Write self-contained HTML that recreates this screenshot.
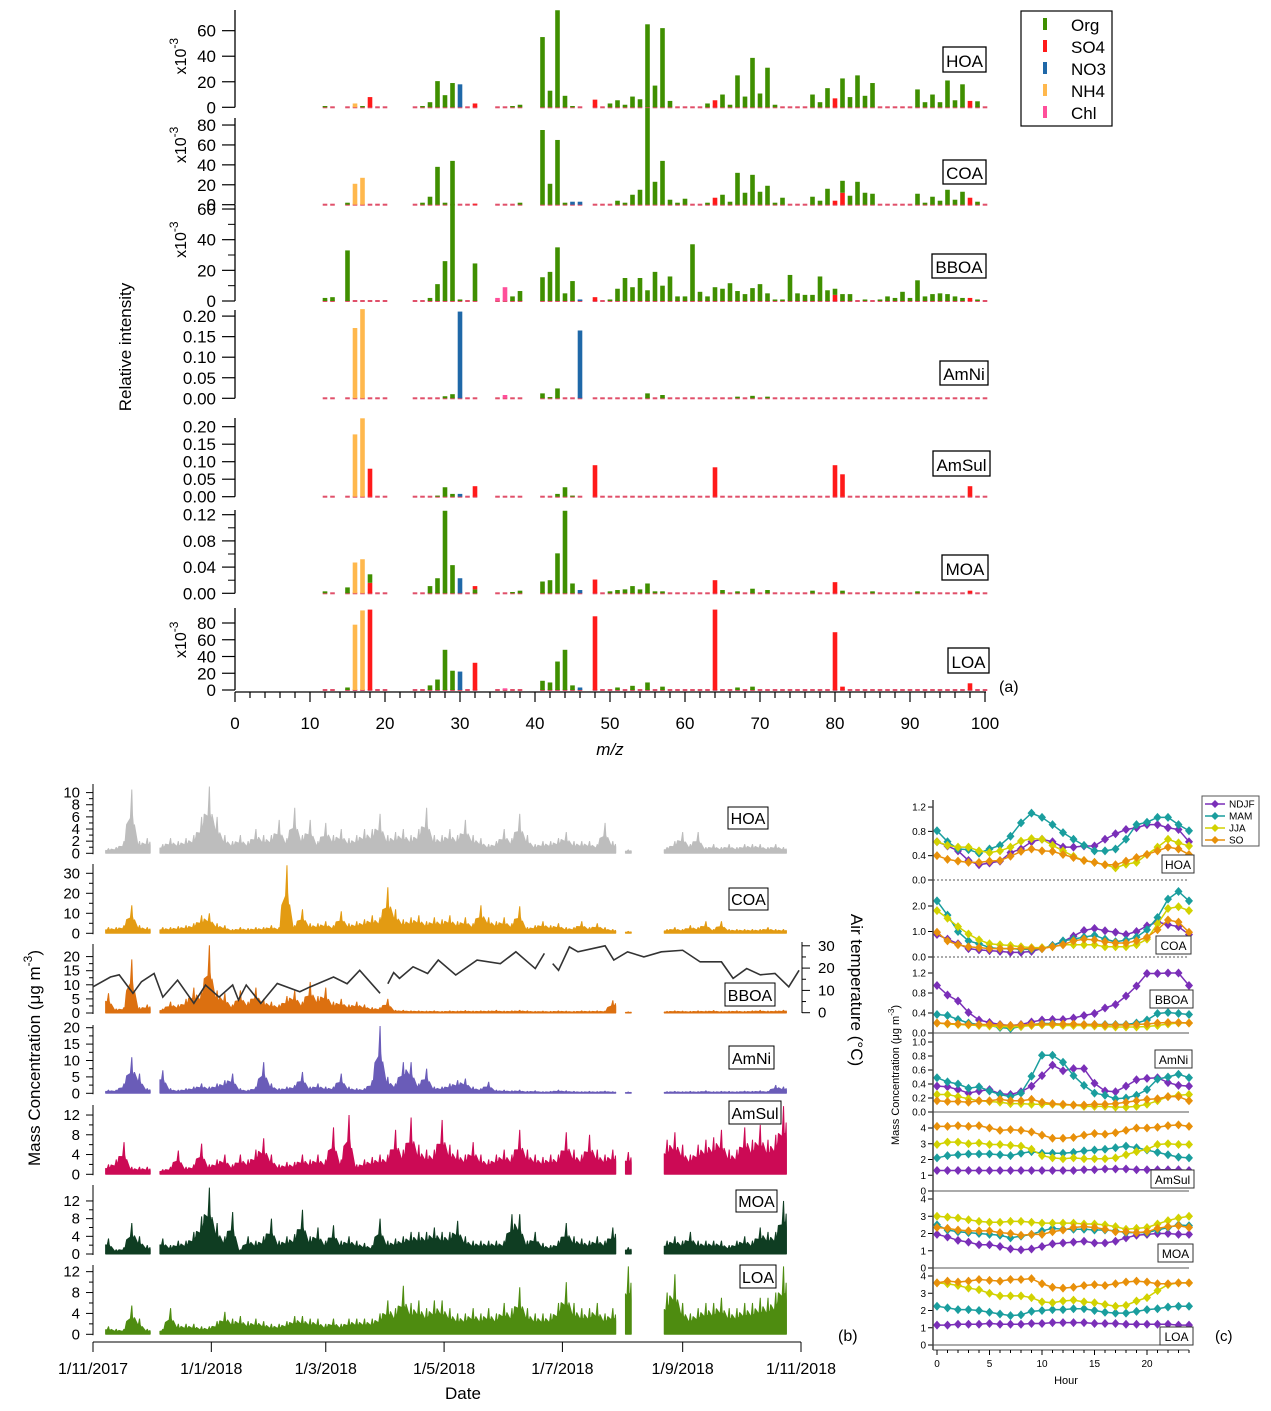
<!DOCTYPE html>
<html><head><meta charset="utf-8"><style>
html,body{margin:0;padding:0;background:#fff}
svg{display:block;font-family:"Liberation Sans",sans-serif}
</style></head><body>
<svg id="fig" width="1271" height="1411" viewBox="0 0 1271 1411" xmlns="http://www.w3.org/2000/svg"></svg>
<script>
// ---------- Panel (a) data: [m/z, value, species] ----------
const mzRanges=[[12,13],[15,20],[24,32],[35,38],[41,46],[48,100]];
const speciesNames=['Org','SO4','NO3','NH4','Chl'];
const speciesCodes='osnhc';
const hoaBars=[[12,1],[16,3,'h'],[17,1],[18,8,'s'],[25,1],[26,4],[27,20.5],[28,9.5],[29,19],[30,18,'n'],[32,3,'s'],[37,1],[38,2],[41,55],[42,13],[43,76],[44,9],[45,1],[48,6,'s'],[50,3],[51,5.5],[52,2],[53,8.4],[54,6.3],[55,65],[56,17],[57,62],[58,5],[63,3],[64,5.5,'s'],[65,10],[66,2],[67,25],[68,8.4],[69,38.7],[70,10.8],[71,31],[72,2],[77,10],[78,4],[79,15],[80,7,'s'],[81,22.6],[82,8],[83,25],[84,9],[85,19],[91,14],[92,4],[93,10],[94,4],[95,21],[96,5.5],[97,18],[98,5,'s'],[99,4.7]];
const coaBars=[[15,2],[16,21,'h'],[17,27,'h'],[25,2],[26,8],[27,38],[28,2],[29,44],[32,1,'s'],[38,2],[41,75],[42,21],[43,65],[44,2],[45,3,'n'],[46,3,'n'],[51,4],[52,2],[53,10],[54,15],[55,97],[56,23],[57,44],[58,5],[59,2],[60,6],[63,2],[64,7,'s'],[65,10],[66,3],[67,32],[68,12],[69,30],[70,13],[71,19],[72,2],[73,7],[77,8],[78,4],[79,16],[80,4,'s'],[81,12,'s'],[81,12],[82,9],[83,23],[84,12],[85,11],[91,11],[92,2],[93,8],[94,4],[95,15],[96,5],[97,13],[98,7,'s'],[99,3]];
const bboaBars=[[12,2],[13,2.5],[15,33],[26,2],[27,11],[28,26],[29,63],[30,1],[32,24.5],[35,2,'c'],[36,9,'c'],[37,3],[38,6.5],[41,15.5],[42,19],[43,35],[44,5],[45,13],[46,1,'n'],[48,2.5,'s'],[50,1],[51,8],[52,15],[53,9],[54,15],[55,7],[56,19],[57,10],[58,16],[59,3],[60,3],[61,37],[62,6],[63,3],[64,9],[65,8],[66,11.6],[67,6.5],[68,4.5],[69,8.4],[70,11],[71,5],[72,1],[73,1],[74,17],[75,5],[76,4],[77,4],[78,16],[79,7],[80,4,'s'],[80,4],[81,4.5],[82,4.5],[84,1],[86,1],[87,3],[88,2],[89,6],[90,2],[91,13.5],[92,3],[93,4.5],[94,5],[95,4.5],[96,3],[97,2],[98,2,'s'],[99,1]];
const amniBars=[[16,0.171,'h'],[17,0.217,'h'],[28,0.005],[29,0.01],[30,0.211,'n'],[36,0.008,'c'],[41,0.012],[42,0.003],[43,0.024],[46,0.165,'n'],[55,0.012],[57,0.008],[67,0.004],[69,0.006],[71,0.004]];
const amsulBars=[[16,0.178,'h'],[17,0.224,'h'],[18,0.08,'s'],[27,0.003],[28,0.027],[29,0.008],[30,0.008,'n'],[32,0.03,'s'],[43,0.008],[44,0.027],[45,0.003],[48,0.09,'s'],[64,0.084,'s'],[80,0.09,'s'],[81,0.064,'s'],[98,0.03,'s']];
const moaBars=[[12,0.003],[15,0.009],[16,0.047,'h'],[17,0.052,'h'],[18,0.016,'s'],[18,0.013],[26,0.011],[27,0.023],[28,0.126],[29,0.043],[30,0.023,'n'],[32,0.006],[32,0.005,'s'],[37,0.002],[38,0.004],[41,0.018],[42,0.02],[43,0.061],[44,0.126],[45,0.015],[46,0.005,'n'],[48,0.021,'s'],[50,0.003],[51,0.005],[52,0.006],[53,0.011],[54,0.006],[55,0.015],[56,0.003],[57,0.003],[64,0.02,'s'],[65,0.005],[67,0.003],[69,0.007],[71,0.005],[77,0.004],[80,0.017,'s'],[81,0.004],[85,0.003],[91,0.003],[98,0.004,'s']];
const loaBars=[[15,3],[16,78,'h'],[17,95,'h'],[18,96,'s'],[26,5.5],[27,12.5],[28,48],[29,23],[30,22,'n'],[32,32.5,'s'],[36,2,'c'],[41,11],[42,9],[43,34],[44,48],[45,5.5],[46,3,'n'],[48,88,'s'],[51,3],[53,5],[55,9],[57,4],[64,96,'s'],[67,3],[69,4],[80,69,'s'],[81,4,'s'],[98,8,'s']];
const mzTicks=[0,10,20,30,40,50,60,70,80,90,100];

// ---------- Panel (b) data: values every 4 days starting day 8 (days since 1/11/2017) ----------
const tsStartDay=8, tsStep=4;
const hoaTS=[0.8,1,2,10.5,2,2.5,null,1.5,2.5,2, 2.5,3,6,11,6,3,2,3,2,4, 3,3,5.5,2.5,7.5,3,5.5,2,5,3, 4,2.5,3,4,4,6.5,3,3.5,4,3, 4,7.5,3,3,4,3,5.5,3,2.5,1.5, 2,4,2.5,6.5,3,1.5,2,2,2.5,3.5, 2,2,2,1.5,5,2,null,0.6,null,null, null,null,1,2,3.5,1.5,3.5,1,1.5,1, 1.5,1,1.5,1.5,1.5,1,1.5,1];
const coaTS=[3,3,4,14,4,3,null,3,3,3.5, 4,5,9,10,5,4,2,3,2.5,3, 3,4,3,34,4,12,5,5,6,4, 11,5,6,7,9,8,23,12,7,8, 9,6,8,7,9,6,8,5,14,8, 6,8,5,13.5,3,4,6,4,5,3, 3,6,3,5,3,2,null,1,null,null, null,null,2,3,2,4,3,6,2,6, 2,2,2,2,2,3,2,2];
const bboaTS=[7,1.5,2,19,2,3,null,1.5,4,3, 5,9,8,24,8,7,3,8,4,9, 5,4,3,6,8,4,11,6,9,4, 5,3,4,3,2,2,5,1,1,0.8, 0.8,0.7,0.8,0.6,0.8,0.7,0.9,0.7,0.8,0.8, 1,0.7,0.8,1,0.8,0.6,0.7,0.6,0.8,0.7, 0.6,0.8,0.7,0.8,0.7,4.5,null,0.4,null,null, null,null,0.6,0.8,0.7,0.6,0.8,0.7,0.9,0.6, 0.7,0.8,0.6,0.8,1,0.7,0.8,1];
const amniTS=[1,1,3,11,6,1.5,null,7,1.5,1, 1.5,2,3,2,3,4,6,1.5,1,2, 9.5,3,1.5,2,2.5,6.5,2,3,2,2, 6,2,1.5,1.5,4,20.5,5,3,9.5,9.5, 3,7.5,2,2,3,4,4.5,2,1.5,3.5, 1,1,0.8,1,0.6,0.8,0.5,0.6,1,0.8, 0.6,0.5,0.6,0.5,0.7,0.5,null,0.4,null,null, null,null,0.5,0.6,0.5,0.6,0.5,0.8,0.5,0.6, 0.6,0.5,0.7,0.6,0.8,0.6,2.5,2];
const amsulTS=[2,3,6.5,1.5,1.5,1.5,null,1,1.5,4.8, 1.5,2,6.2,2,3,4,2,4,3,5, 7.3,4,2,2.5,2.5,4,3,4,3,9.5, 3,12,2,3,3.5,4,4,9,5,11.5, 6,5,5,11,6,5,4,6.5,4,3, 4,5,4,9,5,4,3.5,4,4,8.5, 5,4,8,5,4,5,null,4.5,null,null, null,null,7,8.5,6,4,6,7,7.5,9, 5,5,9.5,7,10,7,8,13.8];
const moaTS=[3.5,1,1.5,7,4,2,null,3.5,2,3, 3,5,8.5,15,7,4,9.5,1,4,3, 4,8,3,4,4.5,10,4,6,3,6.5, 3,4,3,2.5,2,8,3,3.5,4,5, 5,5,6,5,5,7.5,4,3,3,3, 3,3,9,9,3,5,2.5,2,3,7, 4,3.5,3,4,3,6,null,1.5,null,null, null,null,3,4,3,5,3,3,3,3, 2,3,4,3,6,5,5,12];
const loaTS=[1.5,1,1,5.5,3,1,null,1,5,2, 2,2,1.5,1.5,2.5,4.3,3,3.5,2.5,3, 2.5,2,2,2.5,3.5,3.5,3,3,2,3, 2,3,3,3,3,4,6.5,5,9.3,6, 6.5,5,6.5,6.5,5,4,4,5,4,5, 4,6,5,9,5,4,4,4,6,10, 6,5,5,6,4,5,null,13,null,null, null,null,8,11.5,6,4,5,6,6,7, 5,5,6,6,7,7,8,13];
const tempDays=[0,9,13.5,20.6,25,31.5,36,43.6,52,58,65,72,75,79,86.5,95,106.6,112,124,131,137.5,148,null,152,155,158,165,172.5,178,187,198,210,218,228,232.7,null,237,240,245.6,250,264,268.5,275.6,284,293,304,313,324,330,337,344,351.6,358.7,364];
const tempVals=[11.6,16,17,8.7,13.9,17.6,7,14.6,4.2,12.4,7,12.4,5.7,12.4,4.2,13.1,9.4,11.6,16,13,19,8.7,null,13,18,15.4,20.6,17.6,23.6,16.9,23.6,22,27.3,19.8,26.6,null,22,19,29.5,27.3,30,23.6,27.3,25,27.3,28,22.8,22.8,15.4,19.8,17,17.6,11.6,19];
const dateTicks=['1/11/2017','1/1/2018','1/3/2018','1/5/2018','1/7/2018','1/9/2018','1/11/2018'];
const dateTickDays=[0,61,120,181,242,304,365];

// ---------- Panel (c) data: diurnal, hours 0..24 ----------
const seasons=['NDJF','MAM','JJA','SO'];
const hoaNDJF=[0.63,0.56,0.48,0.32,0.25,0.28,0.31,0.45,0.51,0.63,0.67,0.63,0.54,0.54,0.56,0.56,0.67,0.76,0.83,0.86,0.91,0.91,0.86,0.83,0.63];
const hoaMAM=[0.81,0.63,0.51,0.5,0.44,0.51,0.57,0.72,0.94,1.1,1.03,0.91,0.78,0.67,0.57,0.48,0.48,0.51,0.67,0.91,0.95,1.03,1.03,0.91,0.81];
const hoaJJA=[0.63,0.57,0.54,0.54,0.48,0.45,0.48,0.54,0.64,0.68,0.67,0.57,0.48,0.39,0.32,0.29,0.25,0.2,0.26,0.29,0.42,0.54,0.67,0.61,0.56];
const hoaSO=[0.4,0.34,0.31,0.29,0.29,0.31,0.32,0.39,0.47,0.51,0.48,0.47,0.42,0.37,0.32,0.29,0.25,0.25,0.31,0.37,0.42,0.48,0.54,0.51,0.42];
const coaNDJF=[0.88,0.7,0.52,0.33,0.28,0.25,0.22,0.18,0.18,0.22,0.33,0.45,0.6,0.82,1.04,1.12,1.03,0.97,0.88,1.0,1.22,1.37,1.27,1.19,0.88];
const coaMAM=[2.2,1.64,1.0,0.63,0.52,0.37,0.33,0.33,0.3,0.3,0.33,0.45,0.63,0.7,0.78,0.85,0.7,0.6,0.66,0.78,1.07,1.55,2.27,2.57,2.2];
const coaJJA=[1.82,1.52,1.19,0.9,0.67,0.52,0.48,0.45,0.4,0.37,0.37,0.4,0.48,0.48,0.48,0.48,0.4,0.4,0.4,0.48,0.7,1.3,1.9,1.97,1.82];
const coaSO=[0.97,0.63,0.48,0.4,0.37,0.33,0.33,0.33,0.33,0.33,0.33,0.4,0.48,0.63,0.7,0.67,0.6,0.55,0.55,0.63,0.78,1.07,1.45,1.37,0.97];
const bboaNDJF=[0.95,0.76,0.64,0.41,0.26,0.21,0.17,0.15,0.17,0.22,0.26,0.27,0.27,0.3,0.35,0.39,0.5,0.57,0.74,0.94,1.19,1.19,1.2,1.2,0.95];
const bboaMAM=[0.37,0.35,0.27,0.2,0.17,0.15,0.11,0.09,0.13,0.17,0.19,0.19,0.17,0.17,0.17,0.17,0.17,0.17,0.17,0.2,0.26,0.39,0.41,0.39,0.37];
const bboaJJA=[0.2,0.18,0.17,0.16,0.15,0.14,0.13,0.12,0.13,0.15,0.16,0.16,0.15,0.15,0.15,0.14,0.13,0.12,0.12,0.12,0.13,0.15,0.18,0.2,0.2];
const bboaSO=[0.2,0.19,0.18,0.17,0.17,0.17,0.16,0.15,0.16,0.17,0.18,0.18,0.18,0.18,0.17,0.17,0.16,0.16,0.16,0.17,0.18,0.2,0.21,0.21,0.2];
const amniNDJF=[0.37,0.36,0.32,0.27,0.3,0.32,0.26,0.25,0.29,0.37,0.52,0.67,0.59,0.62,0.62,0.41,0.3,0.29,0.37,0.46,0.48,0.49,0.42,0.38,0.37];
const amniMAM=[0.49,0.43,0.4,0.34,0.36,0.3,0.25,0.22,0.27,0.51,0.81,0.81,0.71,0.52,0.38,0.27,0.24,0.19,0.2,0.24,0.32,0.47,0.5,0.54,0.49];
const amniJJA=[0.25,0.25,0.22,0.19,0.16,0.15,0.14,0.12,0.12,0.11,0.11,0.11,0.1,0.1,0.08,0.08,0.08,0.07,0.07,0.08,0.11,0.16,0.22,0.24,0.25];
const amniSO=[0.16,0.15,0.15,0.14,0.16,0.16,0.18,0.16,0.16,0.18,0.14,0.12,0.11,0.1,0.1,0.11,0.11,0.12,0.14,0.16,0.18,0.19,0.22,0.22,0.16];
const amsulNDJF=[1.3,1.3,1.3,1.3,1.3,1.3,1.3,1.3,1.3,1.3,1.3,1.3,1.3,1.3,1.35,1.35,1.4,1.4,1.4,1.35,1.35,1.35,1.35,1.35,1.3];
const amsulMAM=[2.1,2.25,2.3,2.35,2.35,2.35,2.3,2.25,2.4,2.5,2.4,2.4,2.4,2.45,2.55,2.6,2.65,2.75,2.85,2.75,2.6,2.45,2.3,2.15,2.1];
const amsulJJA=[2.95,3.1,3.1,3.0,3.05,2.95,2.95,2.9,2.85,2.65,2.25,2.1,2.05,2.1,2.05,2.05,2.05,2.1,2.3,2.5,2.65,2.95,3.0,2.95,2.95];
const amsulSO=[4.1,4.1,4.15,4.1,4.15,4.0,3.85,3.9,3.85,3.75,3.55,3.35,3.35,3.4,3.55,3.65,3.6,3.7,3.85,4.0,4.0,4.05,4.15,4.2,4.1];
const moaNDJF=[1.95,1.8,1.6,1.5,1.35,1.35,1.25,1.1,1.05,1.1,1.25,1.4,1.45,1.5,1.55,1.45,1.45,1.55,1.75,1.9,1.95,2.0,2.0,1.95,1.95];
const moaMAM=[2.5,2.2,2.1,2.05,2.0,1.95,1.9,1.75,1.85,1.95,2.15,2.3,2.25,2.25,2.25,2.2,2.2,2.15,2.05,2.05,2.05,2.2,2.35,2.5,2.45];
const moaJJA=[3.0,2.95,2.9,2.8,2.7,2.65,2.65,2.7,2.7,2.65,2.6,2.6,2.6,2.6,2.55,2.55,2.5,2.4,2.25,2.3,2.35,2.55,2.75,2.9,3.0];
const moaSO=[2.35,2.3,2.2,2.15,2.15,2.15,2.05,2.0,1.9,1.95,1.95,2.1,2.2,2.35,2.4,2.35,2.25,2.1,2.1,2.05,2.1,2.3,2.4,2.45,2.35];
const loaNDJF=[1.15,1.15,1.2,1.2,1.2,1.25,1.2,1.2,1.2,1.25,1.25,1.3,1.3,1.3,1.3,1.25,1.25,1.25,1.2,1.2,1.2,1.2,1.2,1.15,1.15];
const loaMAM=[2.25,2.15,2.05,2.05,2.0,1.9,1.8,1.7,1.75,1.95,2.0,2.05,2.05,2.1,2.1,2.0,1.9,1.85,1.85,1.95,2.05,2.1,2.2,2.25,2.25];
const loaJJA=[3.6,3.55,3.45,3.3,3.2,3.0,2.85,2.85,2.85,2.75,2.5,2.45,2.55,2.6,2.5,2.45,2.35,2.25,2.3,2.55,2.75,3.15,3.5,3.6,3.6];
const loaSO=[3.6,3.7,3.65,3.7,3.8,3.75,3.7,3.8,3.8,3.85,3.55,3.35,3.3,3.35,3.45,3.5,3.45,3.55,3.65,3.7,3.65,3.55,3.55,3.6,3.6];

const NS='http://www.w3.org/2000/svg';
const svg=document.getElementById('fig');
function mk(tag,attrs,parent){const e=document.createElementNS(NS,tag);for(const k in attrs)e.setAttribute(k,attrs[k]);(parent||svg).appendChild(e);return e;}
function txt(s,attrs,parent){const e=mk('text',attrs,parent);e.textContent=s;return e;}

// ============ PANEL A ============
const gA=mk('g',{});


const spColor={o:'#3f8f00',s:'#ff1a1a',n:'#1f68a8',h:'#ffb84d',c:'#ff4f9a'};
const xMz=mz=>235+7.5*mz;
const panelsA=[
 {name:'HOA',bars:hoaBars,y0:107.3,sc:1.277,top:10,ticks:[0,20,40,60],minor:[],x10:true,fmt:0,box:[943,47,43,25]},
 {name:'COA',bars:coaBars,y0:204.7,sc:0.996,top:118,ticks:[0,20,40,60,80],minor:[],x10:true,fmt:0,box:[943,160,43,24]},
 {name:'BBOA',bars:bboaBars,y0:301,sc:1.533,top:205,ticks:[0,20,40,60],minor:[10,30,50],x10:true,fmt:0,box:[932,254,54,24]},
 {name:'AmNi',bars:amniBars,y0:398.3,sc:411,top:310,ticks:[0,0.05,0.1,0.15,0.2],minor:[],x10:false,fmt:2,box:[940,361,48,24]},
 {name:'AmSul',bars:amsulBars,y0:496.7,sc:350,top:418,ticks:[0,0.05,0.1,0.15,0.2],minor:[],x10:false,fmt:2,box:[933,451,57,25]},
 {name:'MOA',bars:moaBars,y0:593.3,sc:655,top:510,ticks:[0,0.04,0.08,0.12],minor:[0.02,0.06,0.1],x10:false,fmt:2,box:[942,555,46,25]},
 {name:'LOA',bars:loaBars,y0:690,sc:0.8375,top:608,ticks:[0,20,40,60,80],minor:[],x10:true,fmt:0,box:[948,648,41,25]}
];
panelsA.forEach(p=>{
  const g=mk('g',{},gA);
  
  
  const yv=v=>p.y0-v*p.sc;
  const ax=mk('line',{x1:235,x2:235,y1:p.top,y2:p.y0,stroke:'#000','stroke-width':1.3},g);
  
  
  p.ticks.forEach(t=>{
    mk('line',{x1:222,x2:235,y1:yv(t),y2:yv(t),stroke:'#000','stroke-width':1.2},g);
    const tl=txt(t.toFixed(p.fmt),{x:216,y:yv(t)+6,'text-anchor':'end','font-size':17},g);
    
    
  });
  p.minor.forEach(t=>mk('line',{x1:228,x2:235,y1:yv(t),y2:yv(t),stroke:'#000','stroke-width':1},g));
  if(p.x10){
    const cy=yv(p.ticks[p.ticks.length-2]);
    const xl=mk('text',{transform:`translate(186,${cy}) rotate(-90)`,'text-anchor':'middle','font-size':16},g);
    xl.innerHTML='x10<tspan dy="-8" font-size="12">-3</tspan>';
    
    
  }
  mzRanges.forEach(r=>{for(let m=r[0];m<=r[1];m++){mk('rect',{x:xMz(m)-2.3,y:p.y0-1,width:4.6,height:2,fill:'#e0506a'},g);}});
  const cum={};
  p.bars.forEach(b=>{
    const sp=b[2]||'o', m=b[0], v=b[1];
    const base=cum[m]||0;
    const r=mk('rect',{x:xMz(m)-2.3,y:yv(base+v),width:4.6,height:Math.max(0.5,v*p.sc),fill:spColor[sp]},g);
    
    
    cum[m]=base+v;
  });
  const [bx,by,bw,bh]=p.box;
  mk('rect',{x:bx,y:by,width:bw,height:bh,fill:'#fff',stroke:'#000','stroke-width':1.3},g);
  const lb=txt(p.name,{x:bx+bw/2,y:by+bh-5,'text-anchor':'middle','font-size':17},g);
  
  
});
const xax=mk('line',{x1:235,x2:986,y1:692,y2:692,stroke:'#000','stroke-width':1.3},gA);


for(let m=0;m<=100;m+=2){mk('line',{x1:xMz(m),x2:xMz(m),y1:692,y2:m%10===0?702:698,stroke:'#000','stroke-width':1.2},gA);}
mzTicks.forEach(m=>{const t=txt(String(m),{x:xMz(m),y:729,'text-anchor':'middle','font-size':17},gA);
  
  });
const mzT=txt('m/z',{x:610,y:755,'text-anchor':'middle','font-size':17,'font-style':'italic'},gA);


const riT=txt('Relative intensity',{transform:'translate(131,347) rotate(-90)','text-anchor':'middle','font-size':17},gA);


const aL=txt('(a)',{x:999,y:692,'font-size':16},gA);


const lg=mk('g',{},gA);


mk('rect',{x:1021,y:11,width:91,height:115,fill:'#fff',stroke:'#000','stroke-width':1.2},lg);
speciesCodes.split('').forEach((sp,i)=>{
  mk('rect',{x:1043,y:18+i*22,width:4,height:12,fill:spColor[sp]},lg);
  const e=txt(speciesNames[i],{x:1071,y:31+i*22,'font-size':17},lg);
  
  
});

// ============ PANEL B ============
const gB=mk('g',{});


const xDay=d=>93+d*(708/365);
const panelsB=[
 {name:'HOA',data:hoaTS,col:'#bdbdbd',y0:853.3,sc:6.07,top:784,ticks:[0,2,4,6,8,10],box:[728,807,40,22]},
 {name:'COA',data:coaTS,col:'#e39b12',y0:933.3,sc:2.0,top:864,ticks:[0,10,20,30],box:[729,888,39,22]},
 {name:'BBOA',data:bboaTS,col:'#dc7010',y0:1013,sc:2.82,top:944,ticks:[0,5,10,15,20],box:[725,983,50,23]},
 {name:'AmNi',data:amniTS,col:'#6a5cb8',y0:1093.3,sc:3.28,top:1025,ticks:[0,5,10,15,20],box:[729,1046,45,23]},
 {name:'AmSul',data:amsulTS,col:'#cc0a55',y0:1174.3,sc:4.94,top:1105,ticks:[0,4,8,12],box:[729,1101,52,23]},
 {name:'MOA',data:moaTS,col:'#0f3d22',y0:1254,sc:4.42,top:1185,ticks:[0,4,8,12],box:[736,1190,41,22]},
 {name:'LOA',data:loaTS,col:'#4e8c10',y0:1334.3,sc:5.22,top:1265,ticks:[0,4,8,12],box:[740,1265,36,23]}
];
const nf="'Liberation Sans Narrow','Liberation Sans',sans-serif";
panelsB.forEach(p=>{
  const g=mk('g',{},gB);
  
  
  const yv=v=>p.y0-v*p.sc;
  mk('line',{x1:93,x2:93,y1:p.top,y2:p.y0+1,stroke:'#000','stroke-width':1},g);
  p.ticks.forEach(t=>{mk('line',{x1:86,x2:93,y1:yv(t),y2:yv(t),stroke:'#000','stroke-width':1},g);
    const tl=txt(String(t),{x:80,y:yv(t)+5,'text-anchor':'end','font-size':15,'font-family':nf},g);
    
    });
  for(let i=0;i<p.ticks.length-1;i++){const t=(p.ticks[i]+p.ticks[i+1])/2;mk('line',{x1:89,x2:93,y1:yv(t),y2:yv(t),stroke:'#000','stroke-width':1},g);}
  let seg=[];const segs=[];
  p.data.forEach((v,i)=>{if(v===null){if(seg.length)segs.push(seg);seg=[];}else seg.push([tsStartDay+i*tsStep,v]);});
  if(seg.length)segs.push(seg);
  segs.forEach(s=>{
    const d0=s[0][0]-1.5,d1=s[s.length-1][0]+1.5;
    let d=`M${xDay(d0)},${p.y0} L${xDay(d0)},${yv(s[0][1]*0.6)}`;
    s.forEach(([dd,v],k)=>{
      const nb=k<s.length-1?s[k+1][1]:v;
      d+=` L${xDay(dd)-1.4},${yv(v*0.55)} L${xDay(dd)-0.6},${yv(v*0.8)} L${xDay(dd)},${yv(v)} L${xDay(dd)+0.7},${yv(v*0.6)} L${xDay(dd)+2},${yv((v+nb)*0.3)} L${xDay(dd)+2.6},${yv((v+nb)*0.38)}`;
    });
    d+=` L${xDay(d1)},${yv(s[s.length-1][1]*0.5)} L${xDay(d1)},${p.y0} Z`;
    const a=mk('path',{d:d,fill:p.col,stroke:p.col,'stroke-width':1,'stroke-linejoin':'bevel'},g);
    
    
  });
  const [bx,by,bw,bh]=p.box;
  mk('rect',{x:bx,y:by,width:bw,height:bh,fill:'#fff',stroke:'#000','stroke-width':1},g);
  const lb=txt(p.name,{x:bx+bw/2,y:by+bh-5,'text-anchor':'middle','font-size':16,'font-family':nf},g);
  
  
});
const tY=v=>1012.7-v*2.23;
let tp='';let pen=false;
tempDays.forEach((d,i)=>{if(d===null){pen=false;return;}tp+=(pen?' L':' M')+xDay(d)+','+tY(tempVals[i]);pen=true;});
const tl=mk('path',{d:tp,fill:'none',stroke:'#333','stroke-width':1.6},gB);


mk('line',{x1:802,x2:802,y1:942,y2:1013,stroke:'#000','stroke-width':1},gB);
[0,10,20,30].forEach(t=>{mk('line',{x1:802,x2:810,y1:tY(t),y2:tY(t),stroke:'#000','stroke-width':1},gB);
  const e=txt(String(t),{x:818,y:tY(t)+5,'font-size':15,'font-family':nf},gB);
  
  });
[5,15,25].forEach(t=>mk('line',{x1:802,x2:806,y1:tY(t),y2:tY(t),stroke:'#000','stroke-width':1},gB));
const tt=txt('Air temperature (°C)',{transform:'translate(851,990) rotate(90)','text-anchor':'middle','font-size':17},gB);


mk('line',{x1:93,x2:801,y1:1342,y2:1342,stroke:'#000','stroke-width':1},gB);
dateTicks.forEach((s,i)=>{const x=xDay(dateTickDays[i]);
  mk('line',{x1:x,x2:x,y1:1342,y2:1352,stroke:'#000','stroke-width':1},gB);
  const e=txt(s,{x:x,y:1374,'text-anchor':'middle','font-size':16,'font-family':nf},gB);
  
  });
const dT=txt('Date',{x:463,y:1399,'text-anchor':'middle','font-size':17},gB);


const mcT=mk('text',{transform:'translate(40,1058) rotate(-90)','text-anchor':'middle','font-size':17},gB);
mcT.innerHTML='Mass Concentration (μg m<tspan dy="-8" font-size="12">-3</tspan><tspan dy="8">)</tspan>';


const bL=txt('(b)',{x:838,y:1341,'font-size':16},gB);



// ============ PANEL C ============
const gC=mk('g',{});


const xH=h=>937+h*10.5;
const sCol={NDJF:'#7a2fb8',MAM:'#1a9e9e',JJA:'#d2d200',SO:'#e8900a'};
const panelsC=[
 {name:'HOA',s:[hoaNDJF,hoaMAM,hoaJJA,hoaSO],y0:880,sc:60.8,top:800,ticks:[0,0.4,0.8,1.2],fmt:1,dot:true,box:[1162,855,32,18]},
 {name:'COA',s:[coaNDJF,coaMAM,coaJJA,coaSO],y0:957,sc:25.5,top:880,ticks:[0,1,2],fmt:1,dot:true,box:[1156,936,35,18]},
 {name:'BBOA',s:[bboaNDJF,bboaMAM,bboaJJA,bboaSO],y0:1033,sc:50,top:960,ticks:[0,0.4,0.8,1.2],fmt:1,box:[1150,990,43,18]},
 {name:'AmNi',s:[amniNDJF,amniMAM,amniJJA,amniSO],y0:1112,sc:70,top:1035,ticks:[0,0.2,0.4,0.6,0.8,1.0],fmt:1,box:[1155,1050,37,18]},
 {name:'AmSul',s:[amsulNDJF,amsulMAM,amsulJJA,amsulSO],y0:1191,sc:15.75,top:1115,ticks:[0,1,2,3,4],fmt:0,box:[1151,1170,43,18]},
 {name:'MOA',s:[moaNDJF,moaMAM,moaJJA,moaSO],y0:1268,sc:17.25,top:1193,ticks:[0,1,2,3,4],fmt:0,box:[1158,1244,35,18]},
 {name:'LOA',s:[loaNDJF,loaMAM,loaJJA,loaSO],y0:1345,sc:17.25,top:1270,ticks:[0,1,2,3,4],fmt:0,box:[1160,1327,33,18]}
];
panelsC.forEach(p=>{
  const g=mk('g',{},gC);
  
  
  const yv=v=>p.y0-v*p.sc;
  mk('line',{x1:933,x2:1189,y1:p.y0,y2:p.y0,stroke:'#555','stroke-width':1,'stroke-dasharray':p.dot?'2,2':''},g);
  p.ticks.forEach(t=>{mk('line',{x1:928,x2:933,y1:yv(t),y2:yv(t),stroke:'#000','stroke-width':1},g);
    const e=txt(t.toFixed(p.fmt),{x:926,y:yv(t)+3.5,'text-anchor':'end','font-size':10},g);
    
    });
  p.s.forEach((arr,si)=>{
    const c=sCol[seasons[si]];
    const pts=arr.map((v,h)=>xH(h)+','+yv(v)).join(' ');
    const l=mk('polyline',{points:pts,fill:'none',stroke:c,'stroke-width':1.5},g);
    
    
    arr.forEach((v,h)=>{const x=xH(h),y=yv(v);mk('path',{d:`M${x},${y-4.5}L${x+4},${y}L${x},${y+4.5}L${x-4},${y}Z`,fill:c},g);});
  });
  const [bx,by,bw,bh]=p.box;
  mk('rect',{x:bx,y:by,width:bw,height:bh,fill:'#fff',stroke:'#333','stroke-width':1},g);
  const lb=txt(p.name,{x:bx+bw/2,y:by+bh-4,'text-anchor':'middle','font-size':12},g);
  
  
});
mk('line',{x1:933,x2:933,y1:800,y2:1350,stroke:'#444','stroke-width':1.5},gC);
mk('line',{x1:933,x2:1189,y1:1350,y2:1350,stroke:'#444','stroke-width':1},gC);
for(let h=0;h<=24;h++){mk('line',{x1:xH(h),x2:xH(h),y1:1350,y2:h%5===0?1355:1353,stroke:'#000','stroke-width':1},gC);}
[0,5,10,15,20].forEach(h=>{const e=txt(String(h),{x:xH(h),y:1367,'text-anchor':'middle','font-size':10},gC);
  
  });
const hT=txt('Hour',{x:1066,y:1384,'text-anchor':'middle','font-size':11},gC);


const cyT=mk('text',{transform:'translate(899,1075) rotate(-90)','text-anchor':'middle','font-size':11},gC);
cyT.innerHTML='Mass Concentration (μg m<tspan dy="-5" font-size="8">-3</tspan><tspan dy="5">)</tspan>';


const cL=txt('(c)',{x:1215,y:1341,'font-size':15},gC);


const lgC=mk('g',{},gC);


mk('rect',{x:1202,y:796,width:57,height:50,fill:'#fff',stroke:'#555','stroke-width':1},lgC);
seasons.forEach((s,i)=>{const y=804+i*12,c=sCol[s];
  mk('line',{x1:1205,x2:1225,y1:y,y2:y,stroke:c,'stroke-width':1.5},lgC);
  mk('path',{d:`M1215,${y-4}L1219,${y}L1215,${y+4}L1211,${y}Z`,fill:c},lgC);
  const e=txt(s,{x:1229,y:y+3.5,'font-size':10},lgC);
  
  });
</script>
</body></html>
